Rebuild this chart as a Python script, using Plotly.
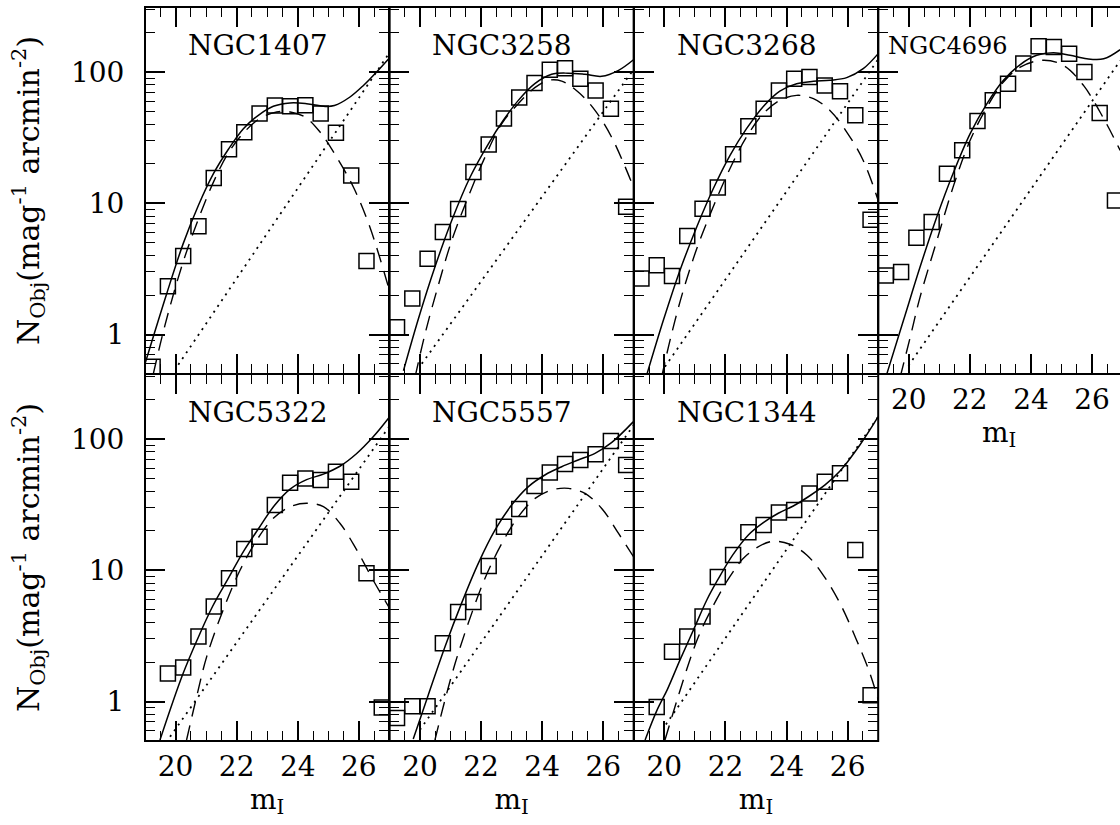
import plotly.graph_objects as go

# ---------------- data ----------------
names = ["NGC1407", "NGC3258", "NGC3268", "NGC4696", "NGC5322", "NGC5557", "NGC1344"]

# observed counts (open squares)
ngc1407_m = [19.25, 19.75, 20.25, 20.75, 21.25, 21.75, 22.25, 22.75, 23.25, 23.75, 24.25, 24.75, 25.25, 25.75, 26.25]
ngc1407_n = [0.57, 2.34, 3.97, 6.68, 15.6, 25.8, 34.7, 48.2, 55.5, 54.8, 55.7, 48.2, 34.5, 16.3, 3.64]
ngc3258_m = [19.25, 19.75, 20.25, 20.75, 21.25, 21.75, 22.25, 22.75, 23.25, 23.75, 24.25, 24.75, 25.25, 25.75, 26.25, 26.75]
ngc3258_n = [1.14, 1.88, 3.78, 6.04, 9.06, 17.3, 28.1, 44.2, 63.8, 82.5, 104, 107, 88.9, 72.4, 52.5, 9.4]
ngc3268_m = [19.25, 19.75, 20.25, 20.75, 21.25, 21.75, 22.25, 22.75, 23.25, 23.75, 24.25, 24.75, 25.25, 25.75, 26.25, 26.75]
ngc3268_n = [2.67, 3.37, 2.79, 5.64, 9.1, 13.2, 23.6, 38.6, 52.6, 72.4, 88.9, 91.6, 79, 71.3, 46.8, 7.5]
ngc4696_m = [19.25, 19.75, 20.25, 20.75, 21.25, 21.75, 22.25, 22.75, 23.25, 23.75, 24.25, 24.75, 25.25, 25.75, 26.25, 26.75]
ngc4696_n = [2.82, 3.0, 5.47, 7.2, 16.8, 25.3, 42.4, 60.8, 81.5, 116, 157, 155, 138, 100, 48.8, 10.5]
ngc5322_m = [19.75, 20.25, 20.75, 21.25, 21.75, 22.25, 22.75, 23.25, 23.75, 24.25, 24.75, 25.25, 25.75, 26.25, 26.75]
ngc5322_n = [1.64, 1.82, 3.13, 5.29, 8.7, 14.5, 18.0, 31.4, 46.5, 50.1, 48.7, 56.4, 47.3, 9.5, 0.90]
ngc5557_m = [19.25, 19.75, 20.25, 20.75, 21.25, 21.75, 22.25, 22.75, 23.25, 23.75, 24.25, 24.75, 25.25, 25.75, 26.25, 26.75]
ngc5557_n = [0.75, 0.92, 0.92, 2.78, 4.81, 5.74, 10.8, 21.5, 29.3, 43.9, 55.5, 64.6, 69.2, 76.4, 96.6, 63.4]
ngc1344_m = [19.75, 20.25, 20.75, 21.25, 21.75, 22.25, 22.75, 23.25, 23.75, 24.25, 24.75, 25.25, 25.75, 26.25, 26.75]
ngc1344_n = [0.91, 2.40, 3.13, 4.44, 8.9, 13.1, 19.5, 22.1, 27.5, 28.8, 38.5, 47.3, 54.8, 14.3, 1.12]

# total fit (solid)
ngc1407_tot_m = [19.0, 19.71, 20.25, 20.75, 21.24, 21.73, 22.22, 22.71, 23.2, 23.75, 24.29, 24.9, 25.2, 25.71, 26.15, 26.58, 27.0]
ngc1407_tot_n = [0.60, 2.05, 4.93, 9.66, 16.8, 25.8, 37.0, 46.8, 54.8, 58.1, 57.4, 54.7, 55.5, 64.5, 79, 100, 128]
ngc3258_tot_m = [19.46, 19.95, 20.49, 21.04, 21.64, 22.24, 22.73, 23.22, 23.76, 24.31, 24.85, 25.4, 25.95, 26.5, 26.99]
ngc3258_tot_n = [0.53, 1.32, 3.27, 7.4, 15.8, 28.4, 42.9, 60.8, 81.5, 96, 98, 96, 92.7, 103, 124]
ngc3268_tot_m = [19.42, 19.97, 20.51, 21.06, 21.6, 22.15, 22.69, 23.24, 23.78, 24.33, 24.88, 25.42, 25.97, 26.51, 27.0]
ngc3268_tot_n = [0.49, 1.29, 3.08, 6.6, 12.9, 23.2, 37, 54.7, 71.6, 81.5, 84.9, 86.5, 90.6, 106, 138]
ngc4696_tot_m = [19.28, 19.83, 20.37, 20.92, 21.47, 22.01, 22.56, 23.1, 23.65, 24.19, 24.74, 25.28, 25.83, 26.38, 26.92]
ngc4696_tot_n = [0.50, 1.29, 3.27, 7.9, 17.3, 33.9, 57.4, 86.4, 114, 134, 140, 134, 126, 126, 148]
ngc5322_tot_m = [19.49, 20.23, 20.72, 21.21, 21.73, 22.23, 22.73, 23.23, 23.75, 24.29, 24.84, 25.38, 25.93, 26.47, 26.97]
ngc5322_tot_n = [0.51, 1.6, 3.0, 5.3, 8.7, 14.0, 21.0, 31.0, 41.5, 49, 54, 62, 77.6, 104, 144]
ngc5557_tot_m = [19.78, 20.27, 20.82, 21.36, 21.91, 22.46, 23.0, 23.55, 24.09, 24.64, 25.18, 25.73, 26.27, 26.98]
ngc5557_tot_n = [0.52, 1.12, 2.62, 5.6, 11.3, 20.3, 31.4, 43.4, 53.2, 61.5, 69.2, 77.8, 93.8, 135]
ngc1344_tot_m = [19.37, 19.75, 20.1, 20.51, 20.95, 21.39, 21.74, 22.24, 22.75, 23.24, 23.73, 24.22, 24.75, 25.26, 25.75, 26.4, 27.0]
ngc1344_tot_n = [0.51, 0.85, 1.24, 2.07, 3.5, 5.94, 8.4, 13.1, 18.6, 23.1, 27.2, 30.9, 36.8, 44.7, 57.0, 90, 148]

# globular cluster component (dashed)
ngc1407_gc_m = [19.27, 19.65, 20.23, 20.75, 21.24, 21.73, 22.22, 22.76, 23.31, 23.75, 24.24, 24.73, 25.27, 25.82, 26.36, 26.97]
ngc1407_gc_n = [0.50, 1.17, 3.47, 7.6, 14.5, 24.2, 34.3, 44.2, 49.6, 49.6, 45.4, 34.9, 22.5, 13.3, 6.6, 2.3]
ngc3258_gc_m = [19.84, 20.17, 20.6, 21.04, 21.58, 22.13, 22.68, 23.22, 23.76, 24.2, 24.64, 25.18, 25.73, 26.27, 26.99]
ngc3258_gc_n = [0.475, 1.02, 2.37, 5.2, 11.2, 22.5, 40.5, 57.4, 76, 86.4, 85.3, 70.5, 51, 32, 13.3]
ngc3268_gc_m = [19.91, 20.24, 20.62, 21.06, 21.6, 22.15, 22.69, 23.24, 23.78, 24.33, 24.88, 25.42, 25.97, 26.51, 27.0]
ngc3268_gc_n = [0.475, 1.02, 2.17, 4.5, 9.4, 18.4, 32, 48.2, 60.8, 66.4, 62.7, 51, 34.9, 21.2, 10.5]
ngc4696_gc_m = [19.72, 20.05, 20.37, 20.92, 21.47, 22.01, 22.56, 23.1, 23.65, 24.41, 25.07, 25.72, 26.38, 26.92]
ngc4696_gc_n = [0.475, 0.96, 1.93, 5.2, 13.7, 30.2, 54, 84, 109, 123, 112, 79, 44.2, 25.3]
ngc5322_gc_m = [20.36, 20.69, 21.02, 21.56, 22.11, 22.66, 23.2, 23.75, 24.29, 24.84, 25.38, 25.93, 26.47, 26.97]
ngc5322_gc_n = [0.51, 1.09, 2.2, 5.0, 10.0, 17.0, 24.9, 30.5, 32.4, 30.5, 22.8, 14.3, 8.4, 5.3]
ngc5557_gc_m = [20.49, 20.82, 21.15, 21.58, 22.13, 22.68, 23.22, 23.77, 24.31, 24.86, 25.4, 25.95, 26.5, 26.99]
ngc5557_gc_n = [0.51, 1.03, 1.95, 3.95, 8.7, 16.0, 25.6, 35.3, 40.9, 42.1, 38.5, 29.6, 19.1, 12.7]
ngc1344_gc_m = [20.02, 20.4, 20.78, 21.11, 21.49, 22.15, 22.69, 23.46, 24.11, 24.66, 25.2, 25.75, 26.29, 26.73, 27.0]
ngc1344_gc_n = [0.51, 1.0, 1.9, 3.1, 4.8, 9.0, 13.0, 16.5, 15.8, 13.1, 9.2, 5.6, 2.95, 1.64, 1.03]

# background component (dotted), end points
ngc1407_bg_m = [20.09, 27.0]
ngc1407_bg_n = [0.59, 140]
ngc3258_bg_m = [20.06, 27.0]
ngc3258_bg_n = [0.60, 105]
ngc3268_bg_m = [20.02, 27.0]
ngc3268_bg_n = [0.57, 125]
ngc4696_bg_m = [19.99, 26.92]
ngc4696_bg_n = [0.58, 122]
ngc5322_bg_m = [19.82, 27.0]
ngc5322_bg_n = [0.54, 125]
ngc5557_bg_m = [20.0, 27.0]
ngc5557_bg_n = [0.61, 128]
ngc1344_bg_m = [20.05, 27.0]
ngc1344_bg_n = [0.67, 148]

y_major = [1, 10, 100]
y_major_text = ["1", "10", "100"]

panels = [
    (ngc1407_m, ngc1407_n, ngc1407_tot_m, ngc1407_tot_n, ngc1407_gc_m, ngc1407_gc_n, ngc1407_bg_m, ngc1407_bg_n),
    (ngc3258_m, ngc3258_n, ngc3258_tot_m, ngc3258_tot_n, ngc3258_gc_m, ngc3258_gc_n, ngc3258_bg_m, ngc3258_bg_n),
    (ngc3268_m, ngc3268_n, ngc3268_tot_m, ngc3268_tot_n, ngc3268_gc_m, ngc3268_gc_n, ngc3268_bg_m, ngc3268_bg_n),
    (ngc4696_m, ngc4696_n, ngc4696_tot_m, ngc4696_tot_n, ngc4696_gc_m, ngc4696_gc_n, ngc4696_bg_m, ngc4696_bg_n),
    (ngc5322_m, ngc5322_n, ngc5322_tot_m, ngc5322_tot_n, ngc5322_gc_m, ngc5322_gc_n, ngc5322_bg_m, ngc5322_bg_n),
    (ngc5557_m, ngc5557_n, ngc5557_tot_m, ngc5557_tot_n, ngc5557_gc_m, ngc5557_gc_n, ngc5557_bg_m, ngc5557_bg_n),
    (ngc1344_m, ngc1344_n, ngc1344_tot_m, ngc1344_tot_n, ngc1344_gc_m, ngc1344_gc_n, ngc1344_bg_m, ngc1344_bg_n),
]
positions = [(0, 0), (0, 1), (0, 2), (0, 3), (1, 0), (1, 1), (1, 2)]  # (row, col)

# ---------------- layout geometry ----------------
W, H = 1120, 825
ML, MT, MB, MR = 145, 7, 84, 0
PW = W - ML - MR
COLW = 244.4
PX_PER_MAG = COLW / 8.0

SERIF = "DejaVu Serif"
tickfont = dict(family=SERIF, size=28, color="black")
xtitlefont = dict(family=SERIF, size=28, color="black")
ytitlefont = dict(family=SERIF, size=30, color="black")

fig = go.Figure()
layout = dict(
    width=W, height=H,
    margin=dict(l=ML, r=MR, t=MT, b=MB, pad=0),
    paper_bgcolor="white", plot_bgcolor="white",
    showlegend=False,
    annotations=[],
    shapes=[],
)

for i, (data, (row, col)) in enumerate(zip(panels, positions)):
    k = i + 1
    sfx = "" if k == 1 else str(k)
    xa, ya = "x" + sfx, "y" + sfx
    sm, sn, tm, tn, gm, gn, bm, bn = data

    fig.add_trace(go.Scatter(x=bm, y=bn, mode="lines", xaxis=xa, yaxis=ya,
                             line=dict(color="black", width=1.8, dash="2px,5px")))
    fig.add_trace(go.Scatter(x=gm, y=gn, mode="lines", xaxis=xa, yaxis=ya, line_shape="spline",
                             line=dict(color="black", width=1.4, dash="15px,9px")))
    fig.add_trace(go.Scatter(x=tm, y=tn, mode="lines", xaxis=xa, yaxis=ya, line_shape="spline",
                             line=dict(color="black", width=1.5)))
    fig.add_trace(go.Scatter(x=sm, y=sn, mode="markers", xaxis=xa, yaxis=ya, cliponaxis=False,
                             marker=dict(symbol="square-open", size=15, color="black",
                                         line=dict(color="black", width=1.5))))

    x0 = col * COLW / PW
    x1 = min(1.0, (col + 1) * COLW / PW)
    xmax = 19 + (x1 - x0) * PW / PX_PER_MAG
    ydom = [0.5, 1.0] if row == 0 else [0.0, 0.5]
    show_x = (row == 1) or (col == 3)
    show_y = (col == 0)

    common = dict(showline=True, linecolor="black", linewidth=1, mirror="ticks",
                  ticks="inside", ticklen=20, tickwidth=1.5, tickcolor="black",
                  showgrid=False, zeroline=False, automargin=False)

    xax = dict(domain=[x0, x1], range=[19, xmax], anchor=ya,
               tickmode="linear", tick0=20, dtick=2,
               showticklabels=show_x, tickfont=tickfont, ticklabelstandoff=0,
               minor=dict(tick0=19, dtick=0.5, ticks="inside", ticklen=10,
                          tickwidth=1.3, tickcolor="black", showgrid=False),
               **common)
    yax = dict(domain=ydom, type="log", range=[-0.3, 2.495], anchor=xa,
               tickmode="array", tickvals=y_major, ticktext=y_major_text,
               showticklabels=show_y, tickfont=tickfont, ticklabelstandoff=14,
               minor=dict(dtick="D1", ticks="inside", ticklen=10,
                          tickwidth=1.3, tickcolor="black", showgrid=False),
               **common)
    if col == 3:
        yax["mirror"] = False
    if show_x:
        xax["title"] = dict(text="m<sub>I</sub>", font=xtitlefont, standoff=4)
    if show_y:
        yax["title"] = dict(text="N<sub>Obj</sub>(mag<sup>-1</sup> arcmin<sup>-2</sup>)",
                            font=ytitlefont, standoff=22)
    layout["xaxis" + sfx] = xax
    layout["yaxis" + sfx] = yax

    # heavier panel frame
    layout["shapes"].append(dict(
        type="rect", xref=xa + " domain", yref=ya + " domain",
        x0=0, x1=1.05 if col == 3 else 1, y0=0, y1=1,
        line=dict(color="black", width=2), fillcolor="rgba(0,0,0,0)", layer="above",
    ))

    if col == 3:
        ax_x, fs = 0.29, 24
    else:
        ax_x, fs = 0.462, 28
    layout["annotations"].append(dict(
        text=names[i], xref=xa + " domain", yref=ya + " domain",
        x=ax_x, y=1 - 38.5 / 367.0, xanchor="center", yanchor="middle",
        showarrow=False, font=dict(family=SERIF, size=fs, color="black"),
    ))

fig.update_layout(**layout)
fig.write_html(
    "out.html",
    config={"displayModeBar": False},
    post_script="document.body.style.margin='0px';document.documentElement.style.overflow='hidden';",
)
